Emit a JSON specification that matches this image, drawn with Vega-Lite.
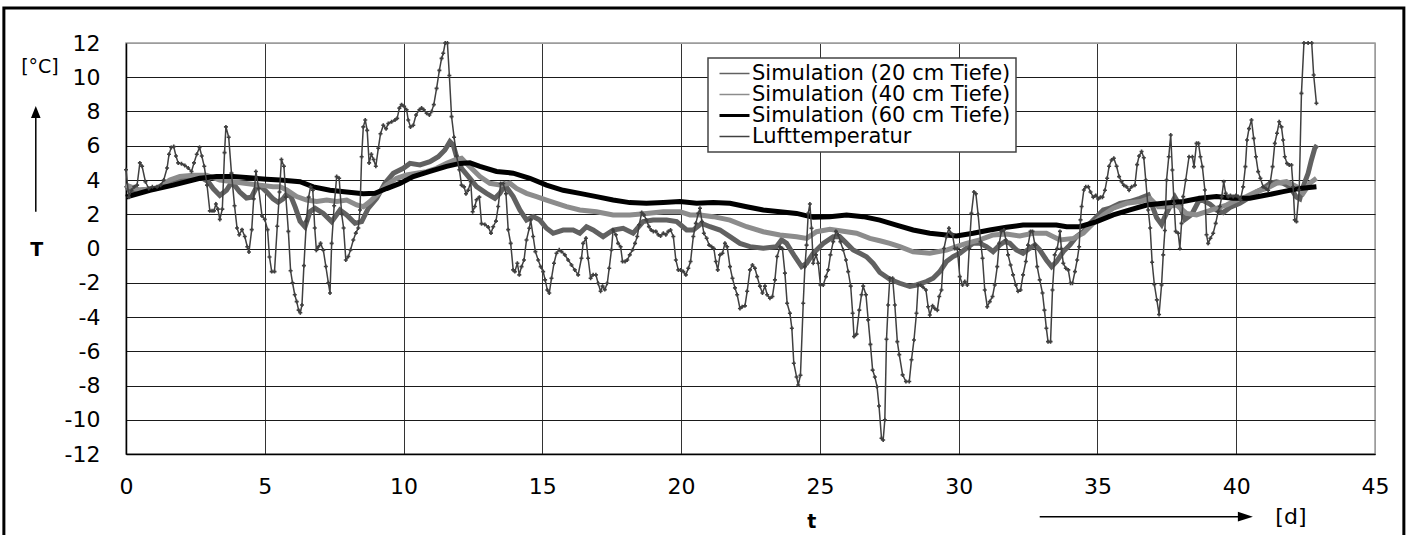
{
  "$schema": "https://vega.github.io/schema/vega-lite/v6.json",
  "width": 1249,
  "height": 411,
  "autosize": "none",
  "padding": {"left": 126, "top": 43, "right": 35, "bottom": 81},
  "background": "white",
  "config": {
    "font": "DejaVu Sans",
    "view": {"stroke": "#9c9c9c", "strokeWidth": 1.5},
    "axis": {
      "labelFont": "DejaVu Sans",
      "labelFontSize": 22,
      "labelColor": "#000",
      "ticks": false,
      "grid": true,
      "domainColor": "#000",
      "domainWidth": 1.5,
      "gridWidth": 1,
      "labelFlush": false,
      "labelOverlap": false
    },
    "legend": {
      "labelFont": "DejaVu Sans",
      "labelFontSize": 21,
      "labelColor": "#000",
      "labelLimit": 400,
      "symbolType": "stroke",
      "symbolSize": 900,
      "symbolStrokeWidth": 1.5,
      "strokeColor": "#444",
      "strokeWidth": 1.5,
      "fillColor": "#fff",
      "padding": 5,
      "symbolOffset": 11,
      "labelOffset": 7,
      "rowPadding": -1,
      "cornerRadius": 0
    }
  },
  "resolve": {"axis": {"x": "independent", "y": "independent"}},
  "datasets": {
    "sim20": [
      {"t":0,"T":3.7},{"t":0.2,"T":3.2},{"t":0.5,"T":3.4},{"t":0.98,"T":3.5},{"t":1.46,"T":3.7},{"t":1.82,"T":3.9},{"t":2.18,"T":4.1},{"t":2.66,"T":4.2},{"t":2.96,"T":3.9},{"t":3.14,"T":3.5},{"t":3.38,"T":3.1},{"t":3.62,"T":3.4},{"t":3.74,"T":3.7},{"t":3.86,"T":3.8},{"t":4.1,"T":3.3},{"t":4.34,"T":2.95},{"t":4.52,"T":3.0},{"t":4.71,"T":3.6},{"t":4.88,"T":3.6},{"t":5.07,"T":3.3},{"t":5.3,"T":2.9},{"t":5.48,"T":2.7},{"t":5.66,"T":2.9},{"t":5.8,"T":3.2},{"t":5.95,"T":3.0},{"t":6.1,"T":2.4},{"t":6.27,"T":1.6},{"t":6.45,"T":1.27},{"t":6.63,"T":2.15},{"t":6.81,"T":2.35},{"t":7.11,"T":2.05},{"t":7.41,"T":1.57},{"t":7.71,"T":2.25},{"t":7.95,"T":1.96},{"t":8.25,"T":1.47},{"t":8.49,"T":1.57},{"t":8.73,"T":2.35},{"t":9.03,"T":2.93},{"t":9.33,"T":3.81},{"t":9.63,"T":4.39},{"t":9.99,"T":4.68},{"t":10.23,"T":4.97},{"t":10.59,"T":4.88},{"t":10.95,"T":5.07},{"t":11.25,"T":5.36},{"t":11.49,"T":5.75},{"t":11.67,"T":6.24},{"t":11.79,"T":6.04},{"t":11.91,"T":5.36},{"t":12.09,"T":4.68},{"t":12.39,"T":4.1},{"t":12.63,"T":3.61},{"t":12.99,"T":3.22},{"t":13.29,"T":2.93},{"t":13.47,"T":3.22},{"t":13.65,"T":3.71},{"t":13.95,"T":3.03},{"t":14.19,"T":2.25},{"t":14.43,"T":1.66},{"t":14.67,"T":1.86},{"t":14.91,"T":1.66},{"t":15.15,"T":1.18},{"t":15.39,"T":0.89},{"t":15.75,"T":1.08},{"t":16.11,"T":1.08},{"t":16.35,"T":0.89},{"t":16.59,"T":1.27},{"t":16.83,"T":1.08},{"t":17.19,"T":0.69},{"t":17.55,"T":1.08},{"t":17.91,"T":1.18},{"t":18.27,"T":0.89},{"t":18.63,"T":1.57},{"t":18.99,"T":1.66},{"t":19.48,"T":1.66},{"t":19.84,"T":1.57},{"t":20.2,"T":1.08},{"t":20.44,"T":1.08},{"t":20.74,"T":1.47},{"t":21.04,"T":1.27},{"t":21.4,"T":1.08},{"t":21.76,"T":0.69},{"t":22.12,"T":0.3},{"t":22.48,"T":0.11},{"t":22.96,"T":0.01},{"t":23.44,"T":0.11},{"t":23.62,"T":0.5},{"t":23.8,"T":0.3},{"t":24.1,"T":-0.48},{"t":24.34,"T":-1.06},{"t":24.52,"T":-0.87},{"t":24.76,"T":-0.28},{"t":25.12,"T":0.3},{"t":25.48,"T":0.69},{"t":25.72,"T":0.69},{"t":25.96,"T":0.3},{"t":26.2,"T":-0.09},{"t":26.44,"T":-0.28},{"t":26.68,"T":-0.48},{"t":26.92,"T":-0.87},{"t":27.16,"T":-1.4},{"t":27.52,"T":-1.8},{"t":27.88,"T":-2.03},{"t":28.24,"T":-2.22},{"t":28.48,"T":-2.13},{"t":28.84,"T":-1.93},{"t":29.08,"T":-1.74},{"t":29.32,"T":-1.35},{"t":29.56,"T":-0.76},{"t":29.8,"T":-0.47},{"t":30.04,"T":-0.28},{"t":30.28,"T":0.01},{"t":30.52,"T":0.31},{"t":30.76,"T":0.31},{"t":31.0,"T":0.11},{"t":31.24,"T":-0.18},{"t":31.48,"T":0.21},{"t":31.66,"T":0.4},{"t":31.84,"T":0.31},{"t":32.08,"T":-0.08},{"t":32.32,"T":-0.28},{"t":32.56,"T":0.01},{"t":32.75,"T":0.21},{"t":32.92,"T":-0.08},{"t":33.16,"T":-0.67},{"t":33.35,"T":-1.06},{"t":33.53,"T":-0.76},{"t":33.77,"T":-0.18},{"t":34.01,"T":0.21},{"t":34.25,"T":0.7},{"t":34.49,"T":0.99},{"t":34.73,"T":1.47},{"t":34.97,"T":1.86},{"t":35.21,"T":2.25},{"t":35.45,"T":2.35},{"t":35.81,"T":2.64},{"t":36.17,"T":2.74},{"t":36.53,"T":2.93},{"t":36.83,"T":3.12},{"t":36.95,"T":2.6},{"t":37.13,"T":1.8},{"t":37.31,"T":1.4},{"t":37.43,"T":1.86},{"t":37.61,"T":2.45},{"t":37.79,"T":3.0},{"t":37.97,"T":2.5},{"t":38.15,"T":1.7},{"t":38.4,"T":2.0},{"t":38.69,"T":2.9},{"t":39.05,"T":2.6},{"t":39.29,"T":2.25},{"t":39.53,"T":2.1},{"t":39.77,"T":2.4},{"t":40.13,"T":2.64},{"t":40.49,"T":3.0},{"t":40.73,"T":3.3},{"t":40.97,"T":3.5},{"t":41.21,"T":3.8},{"t":41.45,"T":3.9},{"t":41.69,"T":3.81},{"t":41.93,"T":3.61},{"t":42.17,"T":3.0},{"t":42.29,"T":2.9},{"t":42.41,"T":3.61},{"t":42.59,"T":4.39},{"t":42.71,"T":5.17},{"t":42.83,"T":5.85},{"t":42.91,"T":6.04}
    ],
    "sim40": [
      {"t":0,"T":3.7},{"t":0.5,"T":3.41},{"t":1.1,"T":3.5},{"t":1.58,"T":4.0},{"t":1.94,"T":4.2},{"t":2.42,"T":4.28},{"t":2.9,"T":4.28},{"t":3.38,"T":3.99},{"t":3.86,"T":3.9},{"t":4.34,"T":3.8},{"t":4.82,"T":3.7},{"t":5.3,"T":3.6},{"t":5.55,"T":3.61},{"t":5.79,"T":3.42},{"t":6.15,"T":3.03},{"t":6.51,"T":2.83},{"t":6.87,"T":2.74},{"t":7.23,"T":2.83},{"t":7.59,"T":2.74},{"t":7.95,"T":2.83},{"t":8.31,"T":2.54},{"t":8.55,"T":2.44},{"t":8.79,"T":2.74},{"t":9.09,"T":3.22},{"t":9.39,"T":3.71},{"t":9.75,"T":4.1},{"t":10.11,"T":4.29},{"t":10.47,"T":4.39},{"t":10.83,"T":4.49},{"t":11.19,"T":4.68},{"t":11.55,"T":4.97},{"t":11.85,"T":5.17},{"t":12.09,"T":5.27},{"t":12.27,"T":4.97},{"t":12.51,"T":4.58},{"t":12.75,"T":4.2},{"t":13.11,"T":3.81},{"t":13.47,"T":3.71},{"t":13.83,"T":3.81},{"t":14.07,"T":3.51},{"t":14.43,"T":3.22},{"t":14.79,"T":3.03},{"t":15.15,"T":2.83},{"t":15.51,"T":2.64},{"t":15.87,"T":2.44},{"t":16.35,"T":2.25},{"t":16.95,"T":2.15},{"t":17.55,"T":1.96},{"t":18.15,"T":1.96},{"t":18.75,"T":2.05},{"t":19.36,"T":2.15},{"t":19.96,"T":2.15},{"t":20.32,"T":1.96},{"t":20.68,"T":1.96},{"t":21.16,"T":1.86},{"t":21.76,"T":1.66},{"t":22.36,"T":1.27},{"t":22.96,"T":0.98},{"t":23.56,"T":0.79},{"t":24.16,"T":0.69},{"t":24.52,"T":0.59},{"t":24.88,"T":0.98},{"t":25.36,"T":1.12},{"t":25.96,"T":0.98},{"t":26.32,"T":0.89},{"t":26.8,"T":0.59},{"t":27.16,"T":0.45},{"t":27.52,"T":0.3},{"t":27.88,"T":0.11},{"t":28.36,"T":-0.19},{"t":28.96,"T":-0.28},{"t":29.56,"T":-0.09},{"t":29.92,"T":0.11},{"t":30.28,"T":0.3},{"t":30.76,"T":0.5},{"t":31.24,"T":0.79},{"t":31.72,"T":0.85},{"t":32.2,"T":0.73},{"t":32.68,"T":0.89},{"t":33.16,"T":0.89},{"t":33.65,"T":0.5},{"t":34.13,"T":0.59},{"t":34.49,"T":0.89},{"t":34.85,"T":1.47},{"t":35.21,"T":1.96},{"t":35.57,"T":2.35},{"t":36.05,"T":2.64},{"t":36.53,"T":2.74},{"t":36.89,"T":2.93},{"t":37.19,"T":2.44},{"t":37.49,"T":2.44},{"t":37.85,"T":2.54},{"t":38.21,"T":2.05},{"t":38.57,"T":1.96},{"t":38.93,"T":2.15},{"t":39.29,"T":2.35},{"t":39.65,"T":2.54},{"t":40.01,"T":2.83},{"t":40.37,"T":3.03},{"t":40.73,"T":3.32},{"t":41.09,"T":3.51},{"t":41.45,"T":3.81},{"t":41.81,"T":3.9},{"t":42.17,"T":3.61},{"t":42.41,"T":3.22},{"t":42.65,"T":3.81},{"t":42.89,"T":4.1}
    ],
    "sim60": [
      {"t":0,"T":3.0},{"t":0.86,"T":3.4},{"t":1.7,"T":3.7},{"t":2.66,"T":4.1},{"t":3.26,"T":4.2},{"t":3.86,"T":4.2},{"t":5.06,"T":4.05},{"t":5.55,"T":4.0},{"t":6.27,"T":3.9},{"t":6.75,"T":3.6},{"t":7.35,"T":3.4},{"t":7.95,"T":3.3},{"t":8.55,"T":3.2},{"t":8.97,"T":3.22},{"t":9.39,"T":3.5},{"t":9.87,"T":3.8},{"t":10.35,"T":4.2},{"t":10.95,"T":4.5},{"t":11.55,"T":4.8},{"t":12.03,"T":4.97},{"t":12.39,"T":5.0},{"t":12.75,"T":4.8},{"t":13.35,"T":4.5},{"t":13.95,"T":4.4},{"t":14.55,"T":4.1},{"t":15.15,"T":3.7},{"t":15.75,"T":3.4},{"t":16.35,"T":3.22},{"t":16.95,"T":3.03},{"t":17.55,"T":2.83},{"t":18.15,"T":2.68},{"t":18.75,"T":2.64},{"t":19.36,"T":2.68},{"t":19.96,"T":2.74},{"t":20.56,"T":2.64},{"t":21.16,"T":2.68},{"t":21.76,"T":2.64},{"t":22.36,"T":2.44},{"t":22.96,"T":2.25},{"t":23.56,"T":2.15},{"t":24.16,"T":2.05},{"t":24.76,"T":1.82},{"t":25.36,"T":1.86},{"t":25.96,"T":1.96},{"t":26.56,"T":1.86},{"t":27.16,"T":1.66},{"t":27.76,"T":1.37},{"t":28.36,"T":1.08},{"t":28.96,"T":0.89},{"t":29.56,"T":0.79},{"t":29.92,"T":0.73},{"t":30.52,"T":0.89},{"t":31.12,"T":1.08},{"t":31.72,"T":1.24},{"t":32.32,"T":1.37},{"t":32.92,"T":1.37},{"t":33.52,"T":1.37},{"t":33.89,"T":1.27},{"t":34.36,"T":1.27},{"t":34.97,"T":1.57},{"t":35.57,"T":1.96},{"t":36.17,"T":2.25},{"t":36.77,"T":2.54},{"t":37.37,"T":2.64},{"t":38.09,"T":2.74},{"t":38.69,"T":2.93},{"t":39.29,"T":3.03},{"t":39.89,"T":2.93},{"t":40.49,"T":2.93},{"t":41.09,"T":3.12},{"t":41.69,"T":3.32},{"t":42.29,"T":3.51},{"t":42.89,"T":3.61}
    ],
    "luft": [
      {"t":0,"T":4.6},{"t":0.1,"T":3.0},{"t":0.2,"T":3.4},{"t":0.3,"T":3.6},{"t":0.4,"T":3.7},{"t":0.5,"T":5.0},{"t":0.58,"T":4.8},{"t":0.7,"T":3.9},{"t":0.82,"T":3.5},{"t":0.95,"T":3.6},{"t":1.12,"T":3.6},{"t":1.25,"T":3.7},{"t":1.36,"T":4.0},{"t":1.48,"T":4.7},{"t":1.55,"T":5.5},{"t":1.63,"T":5.9},{"t":1.72,"T":5.95},{"t":1.8,"T":5.4},{"t":1.88,"T":5.0},{"t":2.0,"T":4.95},{"t":2.12,"T":4.85},{"t":2.24,"T":4.7},{"t":2.36,"T":4.5},{"t":2.45,"T":5.0},{"t":2.55,"T":5.5},{"t":2.65,"T":5.9},{"t":2.73,"T":5.4},{"t":2.82,"T":4.8},{"t":2.92,"T":3.7},{"t":3.02,"T":2.2},{"t":3.1,"T":2.2},{"t":3.17,"T":2.2},{"t":3.24,"T":2.6},{"t":3.31,"T":2.3},{"t":3.38,"T":1.7},{"t":3.47,"T":2.3},{"t":3.55,"T":5.6},{"t":3.6,"T":7.1},{"t":3.7,"T":6.5},{"t":3.8,"T":4.4},{"t":3.91,"T":2.5},{"t":4.0,"T":1.2},{"t":4.08,"T":0.8},{"t":4.18,"T":1.1},{"t":4.28,"T":0.7},{"t":4.37,"T":0.1},{"t":4.43,"T":-0.2},{"t":4.53,"T":1.1},{"t":4.6,"T":2.9},{"t":4.68,"T":4.5},{"t":4.78,"T":3.5},{"t":4.9,"T":1.9},{"t":5.0,"T":1.7},{"t":5.1,"T":1.1},{"t":5.17,"T":-0.5},{"t":5.25,"T":-1.35},{"t":5.35,"T":-1.35},{"t":5.45,"T":1.3},{"t":5.53,"T":3.3},{"t":5.6,"T":5.2},{"t":5.69,"T":4.8},{"t":5.76,"T":3.0},{"t":5.85,"T":1.0},{"t":5.93,"T":-1.3},{"t":6.0,"T":-2.0},{"t":6.08,"T":-2.7},{"t":6.15,"T":-3.1},{"t":6.22,"T":-3.6},{"t":6.28,"T":-3.75},{"t":6.34,"T":-3.3},{"t":6.41,"T":-1.0},{"t":6.5,"T":1.6},{"t":6.58,"T":3.0},{"t":6.65,"T":3.6},{"t":6.73,"T":3.4},{"t":6.8,"T":1.2},{"t":6.86,"T":-0.1},{"t":6.93,"T":0.1},{"t":7.01,"T":0.3},{"t":7.11,"T":-0.1},{"t":7.2,"T":-1.05},{"t":7.29,"T":-2.0},{"t":7.35,"T":-2.6},{"t":7.41,"T":0.3},{"t":7.5,"T":2.5},{"t":7.59,"T":4.2},{"t":7.68,"T":4.1},{"t":7.77,"T":2.0},{"t":7.84,"T":1.2},{"t":7.92,"T":-0.67},{"t":8.01,"T":-0.47},{"t":8.09,"T":-0.08},{"t":8.19,"T":0.5},{"t":8.28,"T":0.9},{"t":8.37,"T":1.2},{"t":8.43,"T":2.25},{"t":8.49,"T":5.36},{"t":8.55,"T":7.1},{"t":8.62,"T":7.5},{"t":8.69,"T":6.9},{"t":8.76,"T":5.0},{"t":8.84,"T":5.5},{"t":8.92,"T":5.2},{"t":9.0,"T":4.8},{"t":9.09,"T":5.85},{"t":9.17,"T":6.7},{"t":9.27,"T":7.2},{"t":9.37,"T":7.0},{"t":9.45,"T":7.3},{"t":9.57,"T":7.4},{"t":9.69,"T":7.5},{"t":9.77,"T":7.6},{"t":9.85,"T":8.2},{"t":9.93,"T":8.4},{"t":10.02,"T":8.3},{"t":10.11,"T":8.1},{"t":10.17,"T":7.5},{"t":10.25,"T":7.1},{"t":10.35,"T":7.2},{"t":10.45,"T":7.8},{"t":10.57,"T":8.1},{"t":10.65,"T":8.2},{"t":10.73,"T":8.1},{"t":10.83,"T":7.9},{"t":10.93,"T":7.8},{"t":11.01,"T":8.0},{"t":11.09,"T":8.4},{"t":11.19,"T":9.35},{"t":11.29,"T":10.4},{"t":11.37,"T":11.1},{"t":11.43,"T":11.4},{"t":11.5,"T":12.0},{"t":11.58,"T":12.0},{"t":11.65,"T":10.1},{"t":11.73,"T":7.7},{"t":11.82,"T":6.5},{"t":11.91,"T":5.4},{"t":12.01,"T":4.6},{"t":12.09,"T":3.7},{"t":12.18,"T":3.6},{"t":12.25,"T":3.2},{"t":12.33,"T":3.4},{"t":12.42,"T":3.9},{"t":12.49,"T":2.15},{"t":12.57,"T":2.45},{"t":12.63,"T":2.85},{"t":12.73,"T":3.0},{"t":12.81,"T":1.45},{"t":12.93,"T":1.4},{"t":13.05,"T":1.25},{"t":13.15,"T":0.9},{"t":13.23,"T":1.27},{"t":13.33,"T":1.6},{"t":13.41,"T":2.45},{"t":13.5,"T":3.8},{"t":13.59,"T":3.8},{"t":13.69,"T":3.2},{"t":13.77,"T":1.1},{"t":13.86,"T":0.3},{"t":13.95,"T":-1.25},{"t":14.01,"T":-1.35},{"t":14.1,"T":-0.86},{"t":14.17,"T":-1.54},{"t":14.25,"T":-1.06},{"t":14.34,"T":-0.67},{"t":14.43,"T":0.5},{"t":14.53,"T":1.18},{"t":14.58,"T":1.67},{"t":14.67,"T":0.7},{"t":14.75,"T":-0.18},{"t":14.85,"T":-0.67},{"t":14.94,"T":-1.06},{"t":15.03,"T":-1.35},{"t":15.1,"T":-1.83},{"t":15.18,"T":-2.42},{"t":15.25,"T":-2.6},{"t":15.33,"T":-1.74},{"t":15.42,"T":-0.86},{"t":15.51,"T":-0.28},{"t":15.61,"T":-0.08},{"t":15.69,"T":-0.18},{"t":15.81,"T":-0.37},{"t":15.93,"T":-0.67},{"t":16.05,"T":-0.96},{"t":16.17,"T":-1.25},{"t":16.29,"T":-1.54},{"t":16.41,"T":-0.57},{"t":16.47,"T":0.3},{"t":16.57,"T":0.6},{"t":16.65,"T":-0.57},{"t":16.74,"T":-1.74},{"t":16.83,"T":-1.54},{"t":16.93,"T":-1.54},{"t":17.01,"T":-2.03},{"t":17.1,"T":-2.5},{"t":17.17,"T":-2.2},{"t":17.25,"T":-2.4},{"t":17.34,"T":-2.03},{"t":17.41,"T":-1.15},{"t":17.49,"T":-0.08},{"t":17.55,"T":1.08},{"t":17.65,"T":0.8},{"t":17.73,"T":0.3},{"t":17.82,"T":0.1},{"t":17.89,"T":-0.76},{"t":17.98,"T":-0.76},{"t":18.06,"T":-0.67},{"t":18.15,"T":-0.37},{"t":18.25,"T":-0.08},{"t":18.34,"T":0.3},{"t":18.42,"T":0.7},{"t":18.49,"T":1.38},{"t":18.58,"T":2.1},{"t":18.66,"T":1.96},{"t":18.75,"T":1.67},{"t":18.84,"T":1.28},{"t":18.92,"T":1.08},{"t":19.0,"T":1.0},{"t":19.09,"T":1.0},{"t":19.18,"T":0.8},{"t":19.26,"T":0.73},{"t":19.36,"T":0.89},{"t":19.45,"T":0.8},{"t":19.54,"T":1.0},{"t":19.62,"T":1.08},{"t":19.72,"T":0.7},{"t":19.81,"T":-0.67},{"t":19.9,"T":-1.25},{"t":19.98,"T":-1.25},{"t":20.08,"T":-1.35},{"t":20.17,"T":-1.54},{"t":20.26,"T":-1.15},{"t":20.34,"T":-0.76},{"t":20.44,"T":0.7},{"t":20.53,"T":1.47},{"t":20.62,"T":2.05},{"t":20.68,"T":2.35},{"t":20.75,"T":1.57},{"t":20.82,"T":0.89},{"t":20.92,"T":0.6},{"t":21.01,"T":0.2},{"t":21.1,"T":0.1},{"t":21.18,"T":0.0},{"t":21.25,"T":-0.76},{"t":21.32,"T":-1.25},{"t":21.4,"T":-0.37},{"t":21.49,"T":-0.28},{"t":21.58,"T":0.3},{"t":21.66,"T":0.1},{"t":21.76,"T":-1.06},{"t":21.85,"T":-1.74},{"t":21.94,"T":-2.3},{"t":22.02,"T":-2.7},{"t":22.12,"T":-3.5},{"t":22.2,"T":-3.4},{"t":22.3,"T":-3.35},{"t":22.38,"T":-2.5},{"t":22.48,"T":-1.25},{"t":22.57,"T":-0.96},{"t":22.66,"T":-1.15},{"t":22.74,"T":-1.64},{"t":22.84,"T":-2.2},{"t":22.93,"T":-2.6},{"t":23.02,"T":-2.2},{"t":23.1,"T":-2.7},{"t":23.2,"T":-2.9},{"t":23.29,"T":-2.8},{"t":23.38,"T":-1.83},{"t":23.46,"T":-0.47},{"t":23.56,"T":0.1},{"t":23.65,"T":0.0},{"t":23.74,"T":-1.44},{"t":23.82,"T":-3.2},{"t":23.92,"T":-3.78},{"t":23.99,"T":-4.66},{"t":24.06,"T":-6.7},{"t":24.16,"T":-7.5},{"t":24.22,"T":-7.97},{"t":24.3,"T":-7.4},{"t":24.4,"T":-3.2},{"t":24.46,"T":-1.06},{"t":24.52,"T":0.2},{"t":24.58,"T":2.05},{"t":24.64,"T":2.6},{"t":24.7,"T":1.18},{"t":24.76,"T":-0.86},{"t":24.86,"T":-0.37},{"t":24.94,"T":-0.86},{"t":25.02,"T":-2.13},{"t":25.12,"T":-2.13},{"t":25.22,"T":-1.64},{"t":25.3,"T":-1.25},{"t":25.38,"T":-0.37},{"t":25.48,"T":0.4},{"t":25.58,"T":1.0},{"t":25.66,"T":0.8},{"t":25.74,"T":0.4},{"t":25.84,"T":-0.08},{"t":25.94,"T":-0.67},{"t":26.02,"T":-1.35},{"t":26.11,"T":-2.2},{"t":26.18,"T":-3.78},{"t":26.23,"T":-5.14},{"t":26.32,"T":-5.0},{"t":26.42,"T":-3.6},{"t":26.5,"T":-2.7},{"t":26.56,"T":-2.2},{"t":26.66,"T":-2.7},{"t":26.74,"T":-4.17},{"t":26.82,"T":-5.6},{"t":26.9,"T":-7.1},{"t":26.98,"T":-7.5},{"t":27.06,"T":-8.07},{"t":27.13,"T":-9.2},{"t":27.22,"T":-11.08},{"t":27.28,"T":-11.18},{"t":27.34,"T":-10.0},{"t":27.4,"T":-5.3},{"t":27.46,"T":-3.3},{"t":27.52,"T":-1.74},{"t":27.62,"T":-1.74},{"t":27.7,"T":-3.3},{"t":27.79,"T":-5.44},{"t":27.86,"T":-6.2},{"t":27.98,"T":-7.38},{"t":28.1,"T":-7.77},{"t":28.22,"T":-7.77},{"t":28.3,"T":-6.5},{"t":28.39,"T":-5.34},{"t":28.48,"T":-3.78},{"t":28.54,"T":-2.13},{"t":28.63,"T":-2.13},{"t":28.72,"T":-2.26},{"t":28.82,"T":-2.42},{"t":28.9,"T":-3.4},{"t":28.96,"T":-3.88},{"t":29.06,"T":-3.35},{"t":29.14,"T":-3.5},{"t":29.23,"T":-3.6},{"t":29.3,"T":-2.8},{"t":29.38,"T":-2.42},{"t":29.47,"T":0.0},{"t":29.56,"T":0.7},{"t":29.65,"T":1.18},{"t":29.71,"T":0.9},{"t":29.78,"T":0.8},{"t":29.86,"T":0.0},{"t":29.95,"T":0.0},{"t":30.04,"T":-1.64},{"t":30.14,"T":-2.13},{"t":30.22,"T":-1.93},{"t":30.31,"T":-2.13},{"t":30.38,"T":0.0},{"t":30.46,"T":2.05},{"t":30.55,"T":3.3},{"t":30.62,"T":3.2},{"t":30.7,"T":2.0},{"t":30.79,"T":0.4},{"t":30.86,"T":-0.57},{"t":30.94,"T":-2.42},{"t":31.03,"T":-3.4},{"t":31.12,"T":-3.1},{"t":31.22,"T":-2.8},{"t":31.3,"T":-2.13},{"t":31.39,"T":-1.06},{"t":31.46,"T":0.3},{"t":31.54,"T":1.0},{"t":31.63,"T":1.08},{"t":31.7,"T":0.5},{"t":31.78,"T":-0.37},{"t":31.87,"T":-0.96},{"t":31.96,"T":-1.54},{"t":32.06,"T":-2.13},{"t":32.14,"T":-2.5},{"t":32.23,"T":-2.42},{"t":32.32,"T":-1.54},{"t":32.42,"T":-0.76},{"t":32.5,"T":0.2},{"t":32.59,"T":1.0},{"t":32.66,"T":1.0},{"t":32.75,"T":0.2},{"t":32.83,"T":-1.06},{"t":32.92,"T":-1.83},{"t":33.02,"T":-2.6},{"t":33.09,"T":-3.6},{"t":33.16,"T":-4.66},{"t":33.22,"T":-5.44},{"t":33.31,"T":-5.44},{"t":33.38,"T":-2.42},{"t":33.46,"T":-0.37},{"t":33.55,"T":0.0},{"t":33.65,"T":1.0},{"t":33.7,"T":0.0},{"t":33.77,"T":-0.86},{"t":33.86,"T":-1.15},{"t":33.95,"T":-1.25},{"t":34.03,"T":-2.03},{"t":34.1,"T":-2.03},{"t":34.19,"T":-1.35},{"t":34.27,"T":-0.67},{"t":34.34,"T":0.1},{"t":34.39,"T":1.67},{"t":34.43,"T":2.45},{"t":34.51,"T":3.42},{"t":34.58,"T":3.6},{"t":34.67,"T":3.6},{"t":34.75,"T":3.3},{"t":34.85,"T":3.0},{"t":34.94,"T":3.1},{"t":35.03,"T":2.9},{"t":35.11,"T":3.0},{"t":35.18,"T":3.0},{"t":35.27,"T":3.4},{"t":35.35,"T":4.1},{"t":35.42,"T":4.8},{"t":35.51,"T":5.17},{"t":35.59,"T":5.27},{"t":35.69,"T":4.8},{"t":35.78,"T":4.2},{"t":35.87,"T":3.9},{"t":35.95,"T":3.7},{"t":36.05,"T":3.6},{"t":36.14,"T":3.4},{"t":36.23,"T":3.6},{"t":36.35,"T":3.7},{"t":36.43,"T":4.9},{"t":36.5,"T":5.4},{"t":36.59,"T":5.66},{"t":36.67,"T":5.3},{"t":36.74,"T":4.0},{"t":36.83,"T":2.25},{"t":36.9,"T":1.2},{"t":36.97,"T":-0.8},{"t":37.05,"T":-2.1},{"t":37.14,"T":-3.0},{"t":37.22,"T":-3.85},{"t":37.31,"T":-2.13},{"t":37.37,"T":-0.37},{"t":37.43,"T":1.05},{"t":37.49,"T":4.0},{"t":37.57,"T":5.36},{"t":37.64,"T":6.63},{"t":37.7,"T":4.58},{"t":37.76,"T":2.64},{"t":37.82,"T":1.0},{"t":37.91,"T":0.89},{"t":37.97,"T":0.0},{"t":38.03,"T":1.47},{"t":38.09,"T":3.03},{"t":38.18,"T":4.0},{"t":38.3,"T":5.36},{"t":38.42,"T":5.36},{"t":38.48,"T":4.78},{"t":38.57,"T":6.14},{"t":38.64,"T":6.14},{"t":38.71,"T":5.36},{"t":38.78,"T":4.78},{"t":38.87,"T":3.42},{"t":38.93,"T":0.8},{"t":38.99,"T":0.3},{"t":39.07,"T":0.6},{"t":39.17,"T":0.89},{"t":39.26,"T":1.47},{"t":39.35,"T":2.16},{"t":39.41,"T":2.45},{"t":39.48,"T":3.03},{"t":39.55,"T":3.9},{"t":39.62,"T":3.22},{"t":39.71,"T":3.03},{"t":39.79,"T":3.1},{"t":39.89,"T":3.03},{"t":39.99,"T":3.1},{"t":40.07,"T":3.03},{"t":40.15,"T":2.84},{"t":40.25,"T":3.6},{"t":40.33,"T":4.78},{"t":40.39,"T":6.34},{"t":40.46,"T":7.0},{"t":40.55,"T":7.5},{"t":40.63,"T":6.43},{"t":40.71,"T":5.36},{"t":40.79,"T":4.49},{"t":40.87,"T":4.1},{"t":40.97,"T":3.6},{"t":41.07,"T":3.5},{"t":41.15,"T":3.4},{"t":41.23,"T":3.9},{"t":41.31,"T":4.78},{"t":41.39,"T":6.14},{"t":41.47,"T":6.73},{"t":41.55,"T":7.4},{"t":41.63,"T":7.1},{"t":41.69,"T":6.34},{"t":41.75,"T":5.36},{"t":41.83,"T":4.97},{"t":41.91,"T":4.88},{"t":41.99,"T":4.88},{"t":42.05,"T":3.6},{"t":42.11,"T":1.67},{"t":42.17,"T":1.57},{"t":42.27,"T":3.42},{"t":42.35,"T":9.06},{"t":42.44,"T":12.0},{"t":42.59,"T":12.0},{"t":42.72,"T":12.0},{"t":42.79,"T":10.13},{"t":42.89,"T":8.48}
    ],
    "one": [{}]
  },
  "layer": [
    {
      "data": {"name": "sim20"},
      "mark": {"type": "line", "strokeWidth": 5},
      "encoding": {
        "x": {
          "field": "t", "type": "quantitative", "title": null,
          "scale": {"domain": [0, 45]},
          "axis": {
            "grid": true,
            "values": [0, 5, 10, 15, 20, 25, 30, 35, 40, 45],
            "labelExpr": "'' + datum.value",
            "labelPadding": 22,
            "gridColor": {"condition": {"test": "datum.value === 45", "value": "#9c9c9c"}, "value": "#333"}
          }
        },
        "y": {
          "field": "T", "type": "quantitative", "title": null,
          "scale": {"domain": [-12, 12]},
          "axis": {
            "grid": true,
            "values": [-12, -10, -8, -6, -4, -2, 0, 2, 4, 6, 8, 10, 12],
            "labelExpr": "'' + datum.value",
            "labelPadding": 26,
            "gridColor": {"condition": {"test": "datum.value === 12", "value": "#9c9c9c"}, "value": "#1a1a1a"}
          }
        },
        "color": {
          "datum": "Simulation (20 cm Tiefe)", "type": "nominal",
          "scale": {
            "domain": ["Simulation (20 cm Tiefe)", "Simulation (40 cm Tiefe)", "Simulation (60 cm Tiefe)", "Lufttemperatur"],
            "range": ["#616161", "#8c8c8c", "#000000", "#404040"]
          },
          "legend": {
            "title": null,
            "orient": "none",
            "legendX": 582,
            "legendY": 15,
            "encode": {"symbols": {"update": {"strokeWidth": {"signal": "datum.value === 'Simulation (60 cm Tiefe)' ? 3 : 1.5"}}}}
          }
        }
      }
    },
    {
      "data": {"name": "sim40"},
      "mark": {"type": "line", "strokeWidth": 5},
      "encoding": {
        "x": {"field": "t", "type": "quantitative", "title": null, "scale": {"domain": [0, 45]}, "axis": null},
        "y": {"field": "T", "type": "quantitative", "title": null, "scale": {"domain": [-12, 12]}, "axis": null},
        "color": {"datum": "Simulation (40 cm Tiefe)", "type": "nominal"}
      }
    },
    {
      "data": {"name": "sim60"},
      "mark": {"type": "line", "strokeWidth": 5},
      "encoding": {
        "x": {"field": "t", "type": "quantitative", "title": null, "scale": {"domain": [0, 45]}, "axis": null},
        "y": {"field": "T", "type": "quantitative", "title": null, "scale": {"domain": [-12, 12]}, "axis": null},
        "color": {"datum": "Simulation (60 cm Tiefe)", "type": "nominal"}
      }
    },
    {
      "data": {"name": "luft"},
      "mark": {"type": "line", "strokeWidth": 1.5},
      "encoding": {
        "x": {"field": "t", "type": "quantitative", "title": null, "scale": {"domain": [0, 45]}, "axis": null},
        "y": {"field": "T", "type": "quantitative", "title": null, "scale": {"domain": [-12, 12]}, "axis": null},
        "color": {"datum": "Lufttemperatur", "type": "nominal"}
      }
    },
    {
      "data": {"name": "luft"},
      "mark": {"type": "point", "shape": "cross", "filled": true, "size": 16, "color": "#404040", "opacity": 1},
      "encoding": {
        "x": {"field": "t", "type": "quantitative", "title": null, "scale": {"domain": [0, 45]}, "axis": null},
        "y": {"field": "T", "type": "quantitative", "title": null, "scale": {"domain": [-12, 12]}, "axis": null}
      }
    },
    {
      "data": {"name": "one"},
      "mark": {"type": "rect", "fill": null, "stroke": "#000", "strokeWidth": 3, "clip": false},
      "encoding": {
        "x": {"datum": -4.4, "type": "quantitative", "scale": {"domain": [0, 45]}, "title": null, "axis": null},
        "x2": {"datum": 46.04},
        "y": {"datum": 14.04, "type": "quantitative", "scale": {"domain": [-12, 12]}, "title": null, "axis": null},
        "y2": {"datum": -17}
      }
    },
    {
      "data": {"name": "one"},
      "mark": {"type": "text", "text": "[°C]", "font": "DejaVu Sans", "fontSize": 19, "align": "center", "baseline": "middle", "color": "#000"},
      "encoding": {
        "x": {"datum": -3.1, "type": "quantitative", "scale": {"domain": [0, 45]}, "title": null, "axis": null},
        "y": {"datum": 10.62, "type": "quantitative", "scale": {"domain": [-12, 12]}, "title": null, "axis": null}
      }
    },
    {
      "data": {"name": "one"},
      "mark": {"type": "text", "text": "T", "font": "DejaVu Sans", "fontSize": 19, "fontWeight": "bold", "align": "center", "baseline": "middle", "color": "#000"},
      "encoding": {
        "x": {"datum": -3.22, "type": "quantitative", "scale": {"domain": [0, 45]}, "title": null, "axis": null},
        "y": {"datum": -0.09, "type": "quantitative", "scale": {"domain": [-12, 12]}, "title": null, "axis": null}
      }
    },
    {
      "data": {"name": "one"},
      "mark": {"type": "rule", "color": "#000", "strokeWidth": 1.5},
      "encoding": {
        "x": {"datum": -3.25, "type": "quantitative", "scale": {"domain": [0, 45]}, "title": null, "axis": null},
        "y": {"datum": 2.15, "type": "quantitative", "scale": {"domain": [-12, 12]}, "title": null, "axis": null},
        "y2": {"datum": 7.7}
      }
    },
    {
      "data": {"name": "one"},
      "mark": {"type": "point", "shape": "M-0.8,1L0,-1L0.8,1Z", "filled": true, "size": 144, "color": "#000", "opacity": 1},
      "encoding": {
        "x": {"datum": -3.25, "type": "quantitative", "scale": {"domain": [0, 45]}, "title": null, "axis": null},
        "y": {"datum": 7.97, "type": "quantitative", "scale": {"domain": [-12, 12]}, "title": null, "axis": null}
      }
    },
    {
      "data": {"name": "one"},
      "mark": {"type": "text", "text": "t", "font": "DejaVu Sans", "fontSize": 19, "fontWeight": "bold", "align": "center", "baseline": "middle", "color": "#000"},
      "encoding": {
        "x": {"datum": 24.71, "type": "quantitative", "scale": {"domain": [0, 45]}, "title": null, "axis": null},
        "y": {"datum": -15.97, "type": "quantitative", "scale": {"domain": [-12, 12]}, "title": null, "axis": null}
      }
    },
    {
      "data": {"name": "one"},
      "mark": {"type": "rule", "color": "#000", "strokeWidth": 1.5},
      "encoding": {
        "x": {"datum": 32.92, "type": "quantitative", "scale": {"domain": [0, 45]}, "title": null, "axis": null},
        "x2": {"datum": 40.1},
        "y": {"datum": -15.66, "type": "quantitative", "scale": {"domain": [-12, 12]}, "title": null, "axis": null}
      }
    },
    {
      "data": {"name": "one"},
      "mark": {"type": "point", "shape": "M-1,-0.65L1,0L-1,0.65Z", "filled": true, "size": 225, "color": "#000", "opacity": 1},
      "encoding": {
        "x": {"datum": 40.33, "type": "quantitative", "scale": {"domain": [0, 45]}, "title": null, "axis": null},
        "y": {"datum": -15.66, "type": "quantitative", "scale": {"domain": [-12, 12]}, "title": null, "axis": null}
      }
    },
    {
      "data": {"name": "one"},
      "mark": {"type": "text", "text": "[d]", "font": "DejaVu Sans", "fontSize": 22, "align": "center", "baseline": "middle", "color": "#000"},
      "encoding": {
        "x": {"datum": 41.97, "type": "quantitative", "scale": {"domain": [0, 45]}, "title": null, "axis": null},
        "y": {"datum": -15.66, "type": "quantitative", "scale": {"domain": [-12, 12]}, "title": null, "axis": null}
      }
    }
  ]
}
